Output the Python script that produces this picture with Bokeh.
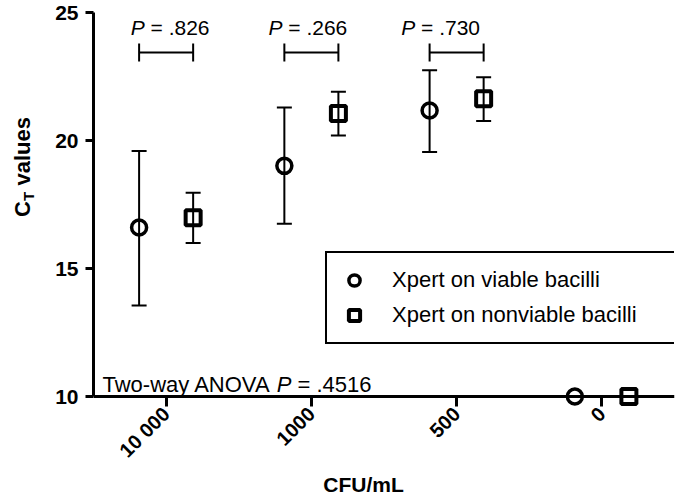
from math import pi

from bokeh.plotting import figure
from bokeh.layouts import column, row
from bokeh.models import (ColumnDataSource, Whisker, TeeHead, Label, Legend, LegendItem,
                          FixedTicker, Span, Range1d)
from bokeh.transform import dodge
from bokeh.embed import file_html
from bokeh.resources import INLINE

# ---------------- data ----------------
categories = ["10 000", "1000", "500", "0"]
viable_mean = [16.60, 19.01, 21.17, 10.00]
viable_lower = [13.56, 16.75, 19.55]
viable_upper = [19.59, 21.29, 22.74]
nonviable_mean = [16.98, 21.05, 21.63, 10.00]
nonviable_lower = [16.00, 20.20, 20.76]
nonviable_upper = [17.96, 21.90, 22.47]
pair_p_values = [".826", ".266", ".730"]
anova_p_value = ".4516"
y_ticks = [10, 15, 20, 25]
legend_labels = ["Xpert on viable bacilli", "Xpert on nonviable bacilli"]

# ---------------- styling ----------------
FONT = "Liberation Sans"
OFF = 0.186          # dodge offset of the two series within a group
BRACKET_Y = 23.44    # height of the comparison brackets
P_TEXT_Y = 24.4      # baseline of the P labels

LEFT_W = 40          # strip holding the rotated y title
BOTTOM_H = 24        # strip holding the x title
TOTAL_W, TOTAL_H = 679, 496
P_W, P_H = TOTAL_W - LEFT_W, TOTAL_H - BOTTOM_H
FRAME_BOTTOM = 407   # 10 px below the y = 10 baseline

p = figure(width=P_W, height=P_H, x_range=categories, y_range=Range1d(9.61, 25),
           output_backend="svg", toolbar_location=None,
           min_border_left=93 - LEFT_W, min_border_right=5, min_border_top=12,
           min_border_bottom=P_H - FRAME_BOTTOM)
p.outline_line_color = None
p.grid.visible = False

# sources
src_v = ColumnDataSource(dict(cat=categories, y=viable_mean))
src_n = ColumnDataSource(dict(cat=categories, y=nonviable_mean))
err_v = ColumnDataSource(dict(cat=categories[:3], lo=viable_lower, hi=viable_upper))
err_n = ColumnDataSource(dict(cat=categories[:3], lo=nonviable_lower, hi=nonviable_upper))
brk = ColumnDataSource(dict(cat=categories[:3], y=[BRACKET_Y] * 3))

# error bars
for src, off in ((err_v, -OFF), (err_n, OFF)):
    p.add_layout(Whisker(source=src, base=dodge("cat", off, range=p.x_range),
                         lower="lo", upper="hi", line_color="black", line_width=2,
                         upper_head=TeeHead(size=15, line_width=2, line_color="black"),
                         lower_head=TeeHead(size=15, line_width=2, line_color="black")))

# comparison brackets
p.add_layout(Whisker(source=brk, base="y", dimension="width",
                     lower=dodge("cat", -OFF, range=p.x_range),
                     upper=dodge("cat", OFF, range=p.x_range),
                     line_color="black", line_width=2,
                     upper_head=TeeHead(size=18, line_width=2, line_color="black"),
                     lower_head=TeeHead(size=18, line_width=2, line_color="black")))

# markers
rv = p.scatter(x=dodge("cat", -OFF, range=p.x_range), y="y", source=src_v, marker="circle",
               size=15, fill_color=None, line_color="black", line_width=3.5)
rn = p.scatter(x=dodge("cat", OFF, range=p.x_range), y="y", source=src_n, marker="square",
               size=15, fill_color=None, line_color="black", line_width=4)

# baseline (x axis line at y = 10)
p.add_layout(Span(location=10, dimension="width", line_color="black", line_width=3))

# axes
xa = p.xaxis[0]
xa.axis_line_color = None
xa.major_tick_in = 10
xa.major_tick_out = 0
xa.major_tick_line_width = 3
xa.major_tick_line_color = "black"
xa.major_label_orientation = pi / 4
xa.major_label_text_font = FONT
xa.major_label_text_font_size = "20px"
xa.major_label_text_font_style = "bold"
xa.major_label_text_color = "black"
xa.major_label_standoff = 4

ya = p.yaxis[0]
ya.ticker = FixedTicker(ticks=y_ticks, minor_ticks=[])
ya.bounds = (10, 25)
ya.axis_line_width = 3
ya.axis_line_color = "black"
ya.major_tick_in = 0
ya.major_tick_out = 8
ya.major_tick_line_width = 3
ya.major_tick_line_color = "black"
ya.minor_tick_line_color = None
ya.major_label_text_font = FONT
ya.major_label_text_font_size = "21px"
ya.major_label_text_font_style = "bold"
ya.major_label_text_color = "black"
ya.major_label_standoff = 7

# legend
legend = Legend(items=[LegendItem(label=legend_labels[0], renderers=[rv]),
                       LegendItem(label=legend_labels[1], renderers=[rn])],
                location=(232, 62), glyph_width=28, glyph_height=28, label_height=28,
                label_width=272, spacing=7, padding=13, margin=0, label_standoff=24,
                border_line_color="black", border_line_width=2, border_line_alpha=1,
                background_fill_color="white", background_fill_alpha=1,
                label_text_font=FONT, label_text_font_size="22px", label_text_color="black")
p.add_layout(legend)

# P labels above brackets (x in synthetic categorical coordinates: group i centre = i + 0.5)
P_SIZE = 21
p_w = 0.667 * P_SIZE
sp_w = 0.278 * P_SIZE
rest_w = (0.584 + 0.278 + 0.278 + 3 * 0.556) * P_SIZE
text_shift = [4, -3.5, -16]
for i, (val, dx) in enumerate(zip(pair_p_values, text_shift)):
    cx = i + 0.5
    start = dx - (p_w + sp_w + rest_w) / 2
    p.add_layout(Label(x=cx, y=P_TEXT_Y, text="P", x_offset=start,
                       text_font=FONT, text_font_size=f"{P_SIZE}px", text_font_style="italic",
                       text_color="black", text_baseline="alphabetic"))
    p.add_layout(Label(x=cx, y=P_TEXT_Y, text="= " + val, x_offset=start + p_w + sp_w,
                       text_font=FONT, text_font_size=f"{P_SIZE}px",
                       text_color="black", text_baseline="alphabetic"))

# ANOVA annotation
A_SIZE = 22
a_x, a_y = 0.062, 10.47
w1 = 7.779 * A_SIZE - 3
spw = 0.278 * A_SIZE
pw = 0.667 * A_SIZE
p.add_layout(Label(x=a_x, y=a_y, text="Two-way ANOVA", text_font=FONT,
                   text_font_size=f"{A_SIZE}px", text_color="black", text_baseline="alphabetic"))
p.add_layout(Label(x=a_x, y=a_y, text="P", x_offset=w1 + spw, text_font=FONT,
                   text_font_size=f"{A_SIZE}px", text_font_style="italic",
                   text_color="black", text_baseline="alphabetic"))
p.add_layout(Label(x=a_x, y=a_y, text="= " + anova_p_value, x_offset=w1 + spw + pw + spw,
                   text_font=FONT, text_font_size=f"{A_SIZE}px",
                   text_color="black", text_baseline="alphabetic"))

# ---- left strip: rotated y title "C_T values" ----
yfig = figure(width=LEFT_W, height=P_H, x_range=Range1d(0, LEFT_W), y_range=Range1d(P_H, 0),
              output_backend="svg", toolbar_location=None, min_border=0,
              x_axis_type=None, y_axis_type=None)
yfig.outline_line_color = None
yfig.grid.visible = False
yl_x, yl_y = 22, 245      # pixel position of the title start inside the strip
yfig.add_layout(Label(x=yl_x, y=yl_y, text="C", angle=pi / 2, text_align="left",
                      text_baseline="middle", text_font=FONT, text_font_size="22px",
                      text_font_style="bold", text_color="black"))
yfig.add_layout(Label(x=yl_x, y=yl_y, text="T", angle=pi / 2, text_align="left",
                      text_baseline="middle", x_offset=6, y_offset=16, text_font=FONT,
                      text_font_size="15px", text_font_style="bold", text_color="black"))
yfig.add_layout(Label(x=yl_x, y=yl_y, text="values", angle=pi / 2, text_align="left",
                      text_baseline="middle", y_offset=31.5, text_font=FONT,
                      text_font_size="22px", text_font_style="bold", text_color="black"))

# ---- bottom strip: x title ----
xfig = figure(width=TOTAL_W, height=BOTTOM_H, x_range=Range1d(0, TOTAL_W),
              y_range=Range1d(BOTTOM_H, 0), output_backend="svg", toolbar_location=None,
              min_border=0, x_axis_type=None, y_axis_type=None)
xfig.outline_line_color = None
xfig.grid.visible = False
xfig.add_layout(Label(x=363, y=12, text="CFU/mL", text_align="center",
                      text_baseline="middle", text_font=FONT, text_font_size="21px",
                      text_font_style="bold", text_color="black"))

layout = column(row(yfig, p, spacing=0), xfig, spacing=0)
open("out.html", "w").write(file_html(layout, INLINE, title="plot"))
